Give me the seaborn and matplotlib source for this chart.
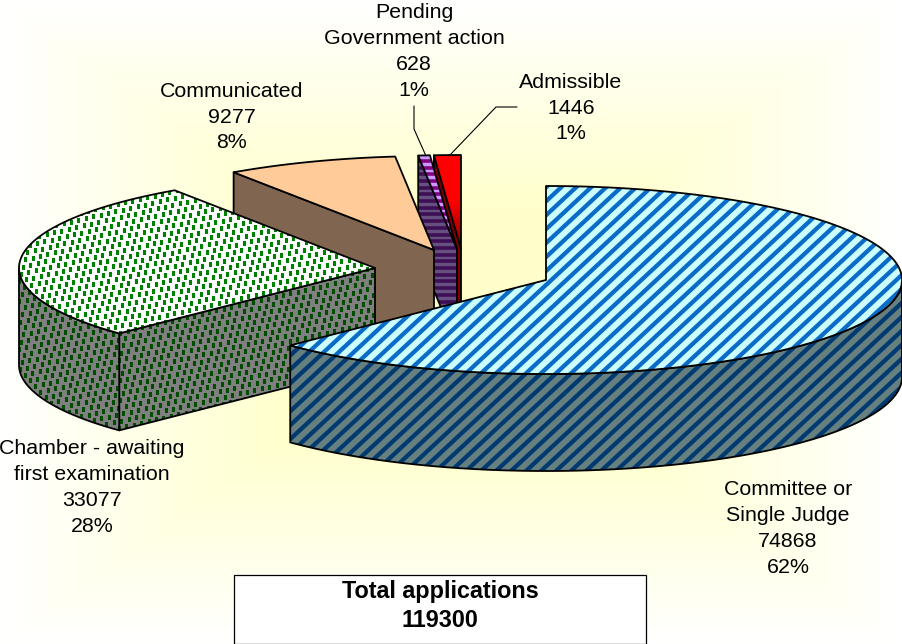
import numpy as np
import seaborn as sns
from matplotlib import pyplot as plt
from matplotlib.patches import Polygon, Rectangle
from matplotlib.collections import LineCollection

names = ["Committee or\nSingle Judge", "Chamber - awaiting\nfirst examination", "Communicated",
         "Pending\nGovernment action", "Admissible"]
values = [74868, 33077, 9277, 628, 1446]
percents = [62, 28, 8, 1, 1]
total_label = "Total applications\n119300"

# where each exploded slice has its tip, and where its label goes (pixels)
tips = [(546, 280), (375, 268), (434, 250), (457, 249), (461, 249)]
label_pos = [(788, 528.5), (92, 487.5), (232, 117), (414, 51.5), (571, 108)]

RX, RY, DEPTH = 356, 94, 97

sns.set_theme(style="white", rc={"font.family": ["Liberation Sans", "DejaVu Sans"]})

fig = plt.figure(figsize=(9.03, 6.44), dpi=100)
ax = fig.add_axes([0, 0, 1, 1])
ax.axis("off")

# background, pale yellow box gradient going white at the border
yy, xx = np.mgrid[0:644, 0:903]
t = np.maximum(np.abs(xx - 451) / 451, np.abs(yy - 322) / 322)
back_cmap = sns.blend_palette(["#FFFFFF", "#FFFFCC"], as_cmap=True)
ax.imshow(np.clip((1 - t) / 0.65, 0, 1), cmap=back_cmap, vmin=0, vmax=1, extent=(0, 903, 644, 0),
          aspect="auto", zorder=0)


def rim(tip, a0, a1):
    a = np.radians(np.linspace(a0, a1, max(int(abs(a1 - a0) * 2), 2)))
    return np.column_stack([tip[0] + RX * np.sin(a), tip[1] - RY * np.cos(a)])


def stripes(patch, step, width, color, z, horizontal=False):
    if horizontal:
        ys = np.arange(0, 644, step)
        segs = [[(0, y), (903, y)] for y in ys]
    else:
        ds = np.arange(-800, 1600, step)
        segs = [[(d, 644), (d + 644 / 0.93, 0)] for d in ds]
    lc = LineCollection(segs, colors=color, linewidths=width * 0.72, zorder=z)
    ax.add_collection(lc)
    lc.set_clip_path(patch)


def dots(patch, color, z):
    pts = [(7.4 * i + 5.2 * j, -1.7 * i + 5.6 * j) for i in range(-60, 130) for j in range(-40, 130)]
    pts = np.array(pts, dtype=float)
    sc = ax.scatter(pts[:, 0], pts[:, 1], s=5, marker="s", color=color, linewidths=0, zorder=z)
    sc.set_snap(False)
    sc.set_clip_path(patch)


def shape(points, face, z):
    p = Polygon(points, closed=True, facecolor=face, edgecolor="none", zorder=z)
    ax.add_patch(p)
    return p


def outline(points, z):
    ax.add_patch(Polygon(points, closed=True, fill=False, edgecolor="black", linewidth=1.3, zorder=z,
                         joinstyle="round"))


def texture(patch, kind, top, z):
    if kind == "blue":
        stripes(patch, 15, 4.3, "#0A6CC8" if top else "#003A70", z)
    elif kind == "green":
        dots(patch, "#008000" if top else "#004D00", z)
    elif kind == "purple":
        stripes(patch, 6.7, 3.6, "#800080" if top else "#3F0F55", z, horizontal=True)


top_faces = ["#CCFFFF", "#FFFFFF", "#FFCC99", "#CC99FF", "#FF0000"]
side_faces = ["#668080", "#808080", "#806650", "#66507F", "#800000"]
kinds = ["blue", "green", None, "purple", "red"]

shares = np.array(values) / sum(values) * 360
ends = np.cumsum(shares)
starts = ends - shares

# back to front, the big slice comes last
z = 2
for i in [4, 3, 2, 1, 0]:
    tip = tips[i]
    a0, a1 = starts[i], ends[i]
    drop = np.array([0, DEPTH])

    faces = []
    # cut face on the start edge, only the ones looking at us
    if a0 > 180:
        corner = rim(tip, a0, a0 + 0.01)[0]
        faces.append(np.array([corner, tip, np.array(tip) + drop, corner + drop]))
    # round outer wall
    lo, hi = max(a0, 90), min(a1, 270)
    if lo < hi:
        arc = rim(tip, lo, hi)
        faces.append(np.vstack([arc, (arc + drop)[::-1]]))

    for f in faces:
        p = shape(f, side_faces[i], z)
        texture(p, kinds[i], False, z + 1)
        outline(f, z + 2)
        z += 3

    top = np.vstack([[tip], rim(tip, a0, a1)])
    p = shape(top, top_faces[i], z)
    texture(p, kinds[i], True, z + 1)
    if kinds[i] == "red":
        red_cmap = sns.blend_palette(["#FF0000", "#FF0000", "#800000"], as_cmap=True)
        grad = np.linspace(0, 1, 100)[:, None]
        im = ax.imshow(grad, cmap=red_cmap, extent=(tip[0] - 40, tip[0] + 5, tip[1], tip[1] - RY),
                       aspect="auto", zorder=z + 1)
        im.set_clip_path(p)
    outline(top, z + 2)
    z += 3

# leader lines
ax.plot([414, 414, 426], [106, 129, 156], color="black", lw=0.8, zorder=z)
ax.plot([517, 496, 449], [107, 107, 156], color="black", lw=0.8, zorder=z)

for name, v, pc, pos in zip(names, values, percents, label_pos):
    ax.text(pos[0], pos[1], f"{name}\n{v}\n{pc}%", ha="center", va="center", fontsize=15.4,
            linespacing=1.45, color="black", zorder=z)

ax.add_patch(Rectangle((234.5, 574.5), 412, 69, facecolor="white", edgecolor="black", linewidth=0.9, zorder=z))
ax.text(440, 606, total_label, ha="center", va="center", fontsize=16.8, fontweight="bold",
        linespacing=1.32, color="black", zorder=z + 1)

ax.set_xlim(0, 903)
ax.set_ylim(644, 0)
fig.savefig("out.png", dpi=100)
